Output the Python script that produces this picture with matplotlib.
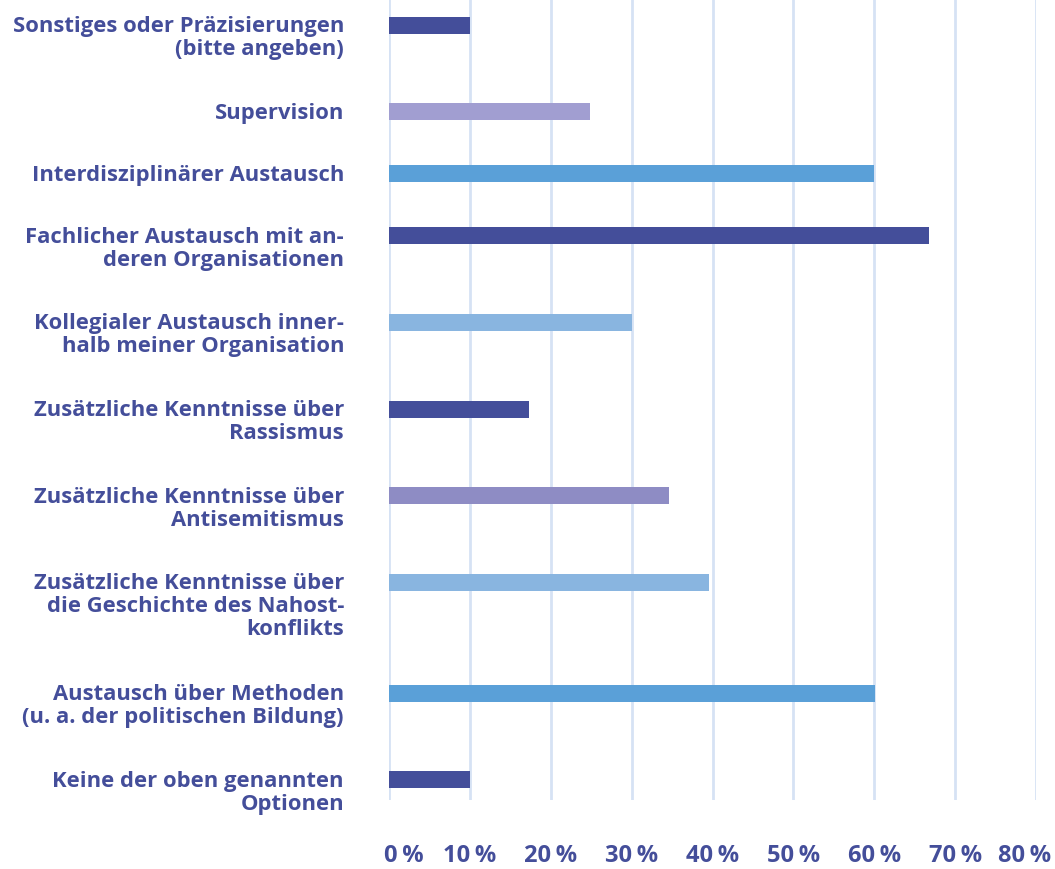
import matplotlib
matplotlib.use("Agg")
import matplotlib.pyplot as plt
import matplotlib.transforms as mtransforms
import numpy as np

categories = [
    "Sonstiges oder Präzisierungen\n(bitte angeben)",
    "Supervision",
    "Interdisziplinärer Austausch",
    "Fachlicher Austausch mit an-\nderen Organisationen",
    "Kollegialer Austausch inner-\nhalb meiner Organisation",
    "Zusätzliche Kenntnisse über\nRassismus",
    "Zusätzliche Kenntnisse über\nAntisemitismus",
    "Zusätzliche Kenntnisse über\ndie Geschichte des Nahost-\nkonflikts",
    "Austausch über Methoden\n(u. a. der politischen Bildung)",
    "Keine der oben genannten\nOptionen",
]
values = [10, 24.8, 60, 66.8, 30, 17.3, 34.6, 39.6, 60.1, 10]
colors = ["#444E9A", "#A19ED1", "#5AA0D8", "#444E9A", "#89B5E0",
          "#444E9A", "#8E8CC4", "#89B5E0", "#5AA0D8", "#444E9A"]
xticks = [0, 10, 20, 30, 40, 50, 60, 70, 80]
xticklabels = ["0\u2009%", "10\u2009%", "20\u2009%", "30\u2009%", "40\u2009%",
               "50\u2009%", "60\u2009%", "70\u2009%", "80\u2009%"]

text_color = "#444E9A"
grid_color = "#D6E2F4"
font = ["Open Sans", "DejaVu Sans"]

# layout: vertical slot depends on number of label lines
W, H = 1055, 869
line_px = 24.5
base_px = 37.6
nlines = [c.count("\n") + 1 for c in categories]
ypos = [25.0]
for n in nlines[:-1]:
    ypos.append(ypos[-1] + base_px + line_px * n)

fig = plt.figure(figsize=(W / 100, H / 100), dpi=100)
ax = fig.add_axes([389 / W, 1 - 800 / H, (1036 - 389) / W, 800 / H])

ax.barh(ypos, values, height=17, color=colors, zorder=3)
ax.set_xlim(0, 80)
ax.set_ylim(800, 0)

ax.set_xticks(xticks)
ax.set_xticklabels(xticklabels)
ax.set_yticks([])
ax.grid(axis="x", color=grid_color, linewidth=2, zorder=0)
for s in ax.spines.values():
    s.set_visible(False)
ax.tick_params(axis="x", length=0, pad=32, labelsize=17, labelcolor=text_color)
tls = ax.get_xticklabels()
for t in tls:
    t.set_fontweight("bold")
    t.set_family(font)
# edge labels are pulled inside the plotting area
tls[0].set_transform(tls[0].get_transform()
                     + mtransforms.ScaledTranslation(0.15, 0, fig.dpi_scale_trans))
tls[-1].set_transform(tls[-1].get_transform()
                      + mtransforms.ScaledTranslation(-0.115, 0, fig.dpi_scale_trans))

for y, lab in zip(ypos, categories):
    ax.annotate(lab, xy=(0, y), xycoords="data", xytext=(-45, 9),
                textcoords="offset pixels", ha="right", va="top",
                multialignment="right", fontsize=15.8, fontweight="bold",
                color=text_color, family=font,
                linespacing=1.13, annotation_clip=False)

fig.savefig("out.png", dpi=100)
